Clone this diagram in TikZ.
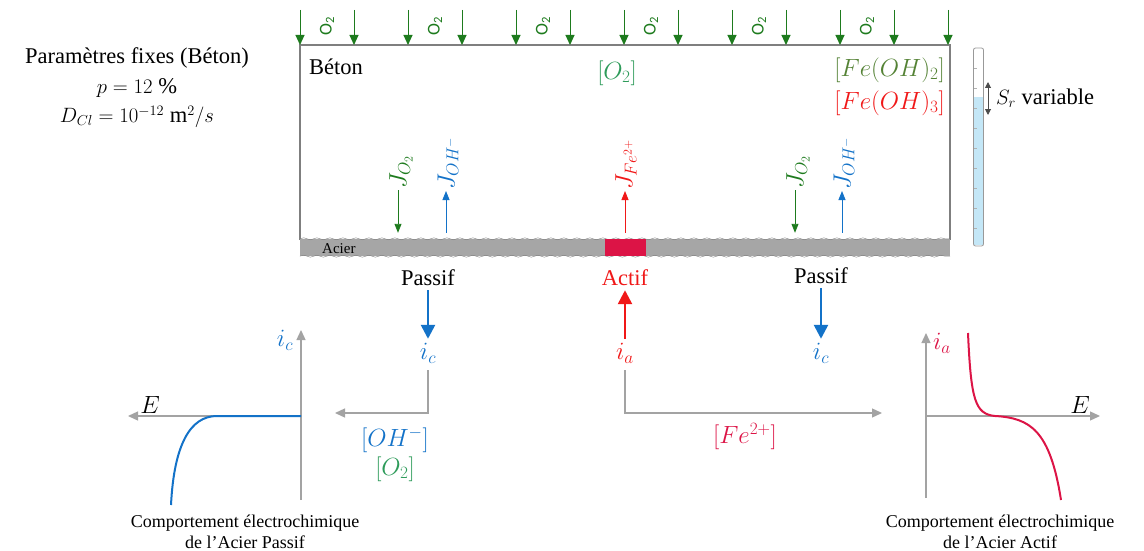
\documentclass[tikz,border=0pt]{standalone}
\usepackage{fontspec}
\setmainfont{Liberation Serif}
\newfontfamily\calibfont{Carlito}
\usepackage{xcolor}
\usetikzlibrary{positioning}
\usetikzlibrary{arrows.meta}
\usetikzlibrary{calc}
\usetikzlibrary{decorations.pathmorphing}
\definecolor{oxgreen}{HTML}{1E7B1E}
\definecolor{o2teal}{HTML}{2E9B5A}
\definecolor{olive}{HTML}{548235}
\definecolor{fered}{HTML}{F01818}
\definecolor{crimson}{HTML}{DC1446}
\definecolor{ohblue}{HTML}{1372C8}
\definecolor{axisgray}{HTML}{A3A3A3}
\definecolor{boxgray}{HTML}{7F7F7F}
\definecolor{steel}{HTML}{A6A6A6}
\definecolor{gaugeblue}{HTML}{C4E7F7}
\tikzset{
  % Oxygen entering through the surface
  supply/.style={-{Triangle[length=10pt,width=9pt]}, draw=oxgreen, line width=1pt},
  % Diffusion fluxes inside the concrete
  flux/.style={-{Triangle[length=9pt,width=7pt]}, line width=0.9pt},
  % Currents under the steel
  current/.style={-{Triangle[length=14pt,width=14pt]}, line width=2.6pt},
  % Grey links and plot axes
  link/.style={-{Triangle[length=10pt,width=9pt]}, draw=axisgray, line width=1.3pt},
  axis/.style={-{Triangle[length=10pt,width=9pt]}, draw=axisgray, line width=1.3pt},
  lbl/.style={font=\fontsize{22.5}{29.5}\selectfont, inner sep=1pt},
  mlbl/.style={font=\fontsize{25}{30}\selectfont, inner sep=1pt},
  jlbl/.style={font=\fontsize{26}{30}\selectfont, inner sep=1pt, rotate=90, anchor=west},
  o2lbl/.style={font=\calibfont\fontsize{18}{20}\selectfont, text=oxgreen, inner sep=1pt, rotate=90},
  caption/.style={font=\fontsize{18}{21.5}\selectfont, align=center, inner sep=1pt},
}

\begin{document}
\begin{tikzpicture}[x=1pt, y=-1pt]
\useasboundingbox (0,0) rectangle (1144,551);

\node[lbl, align=center] (params) at (137,88)
  {Paramètres fixes (Béton)\\$p = 12~\%$\\$D_{Cl} = 10^{-12}~\mathrm{m}^2/s$};

% concrete cover and steel bar
\draw[boxgray, line width=1.5pt] (300,240) -- (300,45) -- (950,45) -- (950,240);
\node[fill=steel, inner sep=0pt, minimum width=650pt, minimum height=17pt] (acier) at (625,247.5) {};
\draw[boxgray, decorate, decoration={snake, amplitude=1pt, segment length=13pt}]
  (acier.north west) -- (acier.north east);
\draw[boxgray, decorate, decoration={snake, amplitude=1pt, segment length=13pt}]
  (acier.south west) -- (acier.south east);
\node[font=\fontsize{15}{17}\selectfont, anchor=west, inner sep=0pt] (acierlbl) at (322,249) {Acier};
\node[fill=crimson, inner sep=0pt, minimum width=41pt, minimum height=17pt] (patch) at (625.5,247.5) {};

\foreach \i in {0,...,12}
  \draw[supply] ({300+54*\i},10) -- ({300+54*\i},45);
\foreach \x in {327,435,543,651,759,867}
  \node[o2lbl] (o2\x) at (\x,26) {O\textsubscript{2}};

\node[lbl, anchor=west] (beton) at (308,67) {Béton};
\node[mlbl, text=o2teal] (o2c) at (617,73) {$[O_2]$};
\node[mlbl, text=olive, anchor=east] (feoh2) at (946,70) {$[Fe(OH)_2]$};
\node[mlbl, text=fered, anchor=east] (feoh3) at (946,103) {$[Fe(OH)_3]$};

% saturation gauge
\fill[gaugeblue] (974,97) rectangle (983,245);
\foreach \y in {68,88,...,228}
  \draw[gray!60] (974,\y) -- (977,\y);
\node[draw=gray!80, rounded corners=2pt, line width=0.8pt, inner sep=0pt,
      minimum width=10pt, minimum height=198pt] (gauge) at (978.5,147) {};
\coordinate (srtop) at (988,82);
\coordinate (srbot) at (988,115);
\draw[{Triangle[length=6pt,width=6pt]}-{Triangle[length=6pt,width=6pt]}, draw=black!70, line width=1pt] (srtop) -- (srbot);
\node[lbl, anchor=west] (sr) at (995,98) {$S_r$ variable};

% fluxes
\node[jlbl, text=oxgreen] (jo2a) at (401,190) {$J_{O_2}$};
\node[jlbl, text=ohblue] (joha) at (448,191) {$J_{OH^-}$};
\node[jlbl, text=fered] (jfe) at (626,191) {$J_{Fe^{2+}}$};
\node[jlbl, text=oxgreen] (jo2b) at (798,190) {$J_{O_2}$};
\node[jlbl, text=ohblue] (johb) at (844,191) {$J_{OH^-}$};
\draw[flux, draw=oxgreen, shorten >=6pt] ([xshift=-3pt]jo2a.west) -- ([xshift=-3pt]jo2a.west |- acier.north);
\draw[flux, draw=ohblue, shorten <=6pt] ([xshift=-2pt]joha.west |- acier.north) -- ([xshift=-2pt]joha.west);
\draw[flux, draw=fered, shorten <=6pt] ([xshift=-1pt]jfe.west |- acier.north) -- ([xshift=-1pt]jfe.west);
\draw[flux, draw=oxgreen, shorten >=6pt] ([xshift=-3pt]jo2b.west) -- ([xshift=-3pt]jo2b.west |- acier.north);
\draw[flux, draw=ohblue, shorten <=6pt] ([xshift=-2pt]johb.west |- acier.north) -- ([xshift=-2pt]johb.west);

% state of the steel and currents
\node[lbl] (pas1) at (428,278) {Passif};
\node[lbl, text=fered] (act) at (625,278) {Actif};
\node[lbl] (pas2) at (821,276) {Passif};
\node[mlbl, text=ohblue] (ic1) at (428,353) {$i_c$};
\node[mlbl, text=fered] (ia) at (625,353) {$i_a$};
\node[mlbl, text=ohblue] (ic2) at (821,353) {$i_c$};
\draw[current, draw=ohblue, shorten <=3pt, shorten >=3pt] (pas1) -- (ic1);
\draw[current, draw=fered, shorten <=3pt, shorten >=3pt] (ia) -- (act);
\draw[current, draw=ohblue, shorten <=3pt, shorten >=3pt] (pas2) -- (ic2);

\coordinate (lend) at (335,413);
\coordinate (rend) at (882,413);
\draw[link, shorten <=6pt] (ic1.south) |- (lend);
\draw[link, shorten <=6pt] (ia.south) |- (rend);
\node[mlbl, text=ohblue] (ohc) at (395,440) {$[OH^-]$};
\node[mlbl, text=o2teal] (o2d) at (395,469) {$[O_2]$};
\node[mlbl, text=crimson] (fec) at (745,437) {$[Fe^{2+}]$};

% passive steel behaviour
\coordinate (pO) at (301,416);
\draw[axis] (301,500) -- (301,330);
\draw[axis] (pO) -- (128,416);
\draw[ohblue, line width=2pt] (pO) -- (217,416) .. controls (190,416) and (174,445) .. (171,505);
\node[mlbl, text=ohblue] (icax) at (285,340) {$i_c$};
\node[mlbl] (eax1) at (150,405) {$E$};
\node[caption] (cap1) at (245,532) {Comportement électrochimique\\de l’Acier Passif};

% active steel behaviour
\coordinate (aO) at (926,416);
\draw[axis] (926,498) -- (926,333);
\draw[axis] (aO) -- (1100,416);
\draw[crimson, line width=2pt] (968,333) .. controls (971,400) and (975,414) .. (995,416)
  .. controls (1030,418) and (1050,430) .. (1061,500);
\node[mlbl, text=crimson] (iaax) at (942,343) {$i_a$};
\node[mlbl] (eax2) at (1080,405) {$E$};
\node[caption] (cap2) at (1000,532) {Comportement électrochimique\\de l’Acier Actif};

\end{tikzpicture}
\end{document}
